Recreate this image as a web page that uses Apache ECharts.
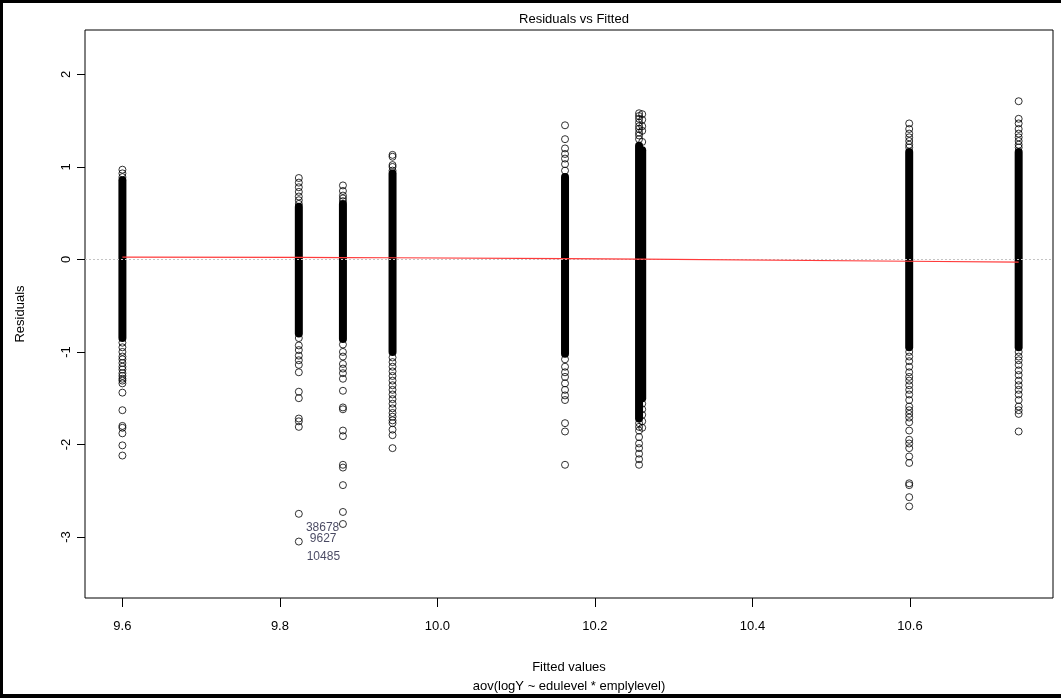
<!DOCTYPE html>
<html>
<head>
<meta charset="utf-8">
<title>Residuals vs Fitted</title>
<script src="https://cdn.jsdelivr.net/npm/echarts@6/dist/echarts.min.js"></script>
<style>
    html, body { margin: 0; padding: 0; background: #fff; }
    #chart { width: 1061px; height: 698px; }
</style>
</head>
<body>
<div id="chart"></div>
<script>
// fitted value of each group (x position of each column)
var fittedValues = [9.6, 9.824, 9.88, 9.943, 10.162, 10.256, 10.260, 10.599, 10.738];

// range of the dense black band of each column
var bandLow  = [-0.85, -0.80, -0.86, -1.00, -1.02, -1.72, -1.50, -0.95, -0.95];
var bandHigh = [0.855, 0.57, 0.60, 0.93, 0.89, 1.23, 1.18, 1.16, 1.16];

// single residuals outside the band, one list per column
var outliers = [
    [0.97, 0.93, 0.89, -0.90, -0.95, -1.00, -1.05, -1.08, -1.12, -1.16, -1.19, -1.23, -1.26, -1.29, -1.31, -1.34, -1.44, -1.63, -1.80, -1.82, -1.88, -2.01, -2.12],
    [0.88, 0.83, 0.78, 0.73, 0.68, 0.64, 0.60, -0.85, -0.93, -0.98, -1.04, -1.09, -1.14, -1.22, -1.43, -1.50, -1.72, -1.75, -1.81, -2.75, -3.05],
    [0.80, 0.74, 0.69, 0.66, 0.63, -0.92, -1.00, -1.05, -1.13, -1.18, -1.23, -1.29, -1.42, -1.60, -1.62, -1.85, -1.91, -2.22, -2.25, -2.44, -2.73, -2.86],
    [1.13, 1.11, 1.02, 1.00, 0.96, -1.06, -1.11, -1.16, -1.21, -1.26, -1.31, -1.36, -1.41, -1.46, -1.51, -1.56, -1.61, -1.66, -1.70, -1.74, -1.77, -1.84, -1.90, -2.04],
    [1.45, 1.30, 1.20, 1.14, 1.09, 1.03, 0.96, -1.08, -1.16, -1.22, -1.27, -1.34, -1.41, -1.47, -1.52, -1.77, -1.86, -2.22],
    [1.58, 1.55, 1.52, 1.48, 1.44, 1.41, 1.37, 1.34, 1.30, -1.77, -1.81, -1.85, -1.92, -1.99, -2.04, -2.10, -2.16, -2.22],
    [1.57, 1.51, 1.44, 1.39, 1.27, -1.56, -1.62, -1.68, -1.75, -1.82],
    [1.47, 1.41, 1.36, 1.32, 1.28, 1.24, 1.21, -1.00, -1.05, -1.10, -1.16, -1.22, -1.27, -1.31, -1.36, -1.41, -1.46, -1.52, -1.59, -1.63, -1.67, -1.71, -1.76, -1.85, -1.95, -1.99, -2.04, -2.13, -2.20, -2.42, -2.44, -2.57, -2.67],
    [1.71, 1.52, 1.47, 1.41, 1.36, 1.32, 1.28, 1.24, 1.21, -1.00, -1.05, -1.09, -1.14, -1.20, -1.25, -1.31, -1.36, -1.41, -1.46, -1.52, -1.59, -1.63, -1.67, -1.86]
];

// red lowess smooth at each fitted value
var smoothValues = [0.025, 0.022, 0.020, 0.018, 0.008, 0.004, 0.004, -0.020, -0.030];

// labels of the most extreme points
var idLabels = ['38678', '9627', '10485'];
var idLabelX = [9.833, 9.838, 9.834];
var idLabelY = [-2.90, -3.02, -3.21];

var xTicks = [9.6, 9.8, 10.0, 10.2, 10.4, 10.6];
var yTicks = [-3, -2, -1, 0, 1, 2];

var font = '"Liberation Sans", Arial, sans-serif';

var bandData = [];
var pointData = [];
var smoothData = [];
for (var i = 0; i < fittedValues.length; i++) {
    bandData.push([fittedValues[i], bandLow[i], bandHigh[i]]);
    smoothData.push([fittedValues[i], smoothValues[i]]);
    for (var j = 0; j < outliers[i].length; j++) {
        pointData.push([fittedValues[i], outliers[i][j]]);
    }
}
var labelData = [];
for (var k = 0; k < idLabels.length; k++) {
    labelData.push({ value: [idLabelX[k], idLabelY[k]], name: idLabels[k] });
}

var chart = echarts.init(document.getElementById('chart'), null, { renderer: 'canvas' });

var option = {
    backgroundColor: '#fff',
    animation: false,
    title: {
        text: 'Residuals vs Fitted',
        left: 569,
        top: 8,
        textAlign: 'center',
        textStyle: { fontFamily: font, fontSize: 13, fontWeight: 'normal', color: '#000' }
    },
    grid: {
        left: 85, right: 8, top: 30, bottom: 100,
        outerBoundsMode: 'none',
        show: true, borderColor: '#000', borderWidth: 1, backgroundColor: 'transparent'
    },
    xAxis: {
        type: 'value',
        min: 9.5525,
        max: 10.7816,
        name: 'Fitted values\naov(logY ~ edulevel * emplylevel)',
        nameLocation: 'middle',
        nameGap: 60,
        nameTextStyle: { fontFamily: font, fontSize: 13, color: '#000', lineHeight: 19 },
        axisLine: { show: false, onZero: false },
        splitLine: { show: false },
        axisTick: { show: true, length: 9, customValues: xTicks, lineStyle: { color: '#000' } },
        axisLabel: {
            customValues: xTicks,
            margin: 22,
            fontFamily: font, fontSize: 13, color: '#000',
            formatter: function (v) { return v.toFixed(1); }
        }
    },
    yAxis: {
        type: 'value',
        min: -3.66,
        max: 2.48,
        name: 'Residuals',
        nameLocation: 'middle',
        nameRotate: 90,
        nameGap: 58,
        nameTextStyle: { fontFamily: font, fontSize: 13, color: '#000' },
        axisLine: { show: false, onZero: false },
        splitLine: { show: false },
        axisTick: { show: true, length: 8, customValues: yTicks, lineStyle: { color: '#000' } },
        axisLabel: {
            customValues: yTicks,
            rotate: 90,
            margin: 12,
            fontFamily: font, fontSize: 13, color: '#000'
        }
    },
    series: [
        {
            // dense stacks of overlapping circles
            type: 'custom',
            silent: true,
            data: bandData,
            encode: { x: 0, y: [1, 2] },
            renderItem: function (params, api) {
                var top = api.coord([api.value(0), api.value(2)]);
                var bottom = api.coord([api.value(0), api.value(1)]);
                return {
                    type: 'rect',
                    shape: { x: top[0] - 4, y: top[1] - 4, width: 8, height: bottom[1] - top[1] + 8, r: 4 },
                    style: { fill: '#000' }
                };
            }
        },
        {
            type: 'scatter',
            silent: true,
            symbol: 'circle',
            symbolSize: 7,
            data: pointData,
            itemStyle: { color: 'rgba(0,0,0,0)', borderColor: '#000', borderWidth: 1 }
        },
        {
            type: 'line',
            silent: true,
            data: smoothData,
            symbol: 'none',
            lineStyle: { color: '#ff3b3b', width: 1.2 },
            z: 5,
            markLine: {
                silent: true,
                symbol: ['none', 'none'],
                label: { show: false },
                lineStyle: { color: '#c4c4c4', type: [2, 2], width: 1 },
                data: [{ yAxis: 0 }]
            }
        },
        {
            type: 'scatter',
            silent: true,
            symbolSize: 0,
            data: labelData,
            label: {
                show: true,
                position: 'right',
                distance: 0,
                formatter: '{b}',
                fontFamily: font, fontSize: 12, color: '#1a1a3a'
            }
        }
    ],
    graphic: [
        { type: 'rect', shape: { x: 0, y: 0, width: 1061, height: 3 }, style: { fill: '#000' } },
        { type: 'rect', shape: { x: 0, y: 0, width: 3, height: 698 }, style: { fill: '#000' } },
        { type: 'rect', shape: { x: 0, y: 694, width: 1061, height: 4 }, style: { fill: '#000' } }
    ]
};

chart.setOption(option);
</script>
</body>
</html>
